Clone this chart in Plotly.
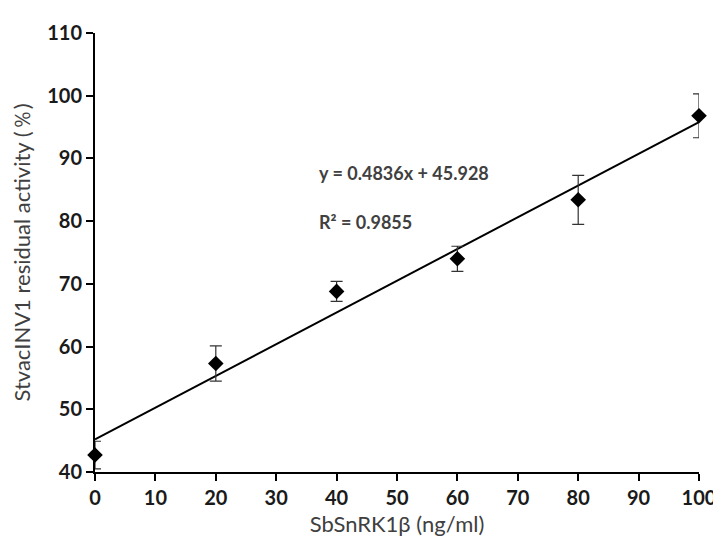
import numpy as np
import plotly.graph_objects as go

conc = [0, 20, 40, 60, 80, 100]
activity = [42.7, 57.3, 68.8, 74.0, 83.4, 96.8]
err = [2.2, 2.8, 1.6, 2.0, 3.9, 3.5]
x_ticks = [0, 10, 20, 30, 40, 50, 60, 70, 80, 90, 100]
y_ticks = [40, 50, 60, 70, 80, 90, 100, 110]
eq_text = "y = 0.4836x + 45.928"
r2_text = "R² = 0.9855"

slope, intercept = np.polyfit(conc, activity, 1)
fit_x = [0, 100]
fit_y = [intercept + slope * v for v in fit_x]

fig = go.Figure()
fig.add_trace(go.Scatter(x=fit_x, y=fit_y, mode="lines",
                         line=dict(color="black", width=2), cliponaxis=False,
                         showlegend=False, hoverinfo="skip"))
fig.add_trace(go.Scatter(x=conc, y=activity, mode="markers",
                         marker=dict(symbol="diamond", size=12, color="black"),
                         error_y=dict(type="data", array=err, visible=True,
                                      color="#333333", thickness=1.2, width=6),
                         cliponaxis=False, showlegend=False))

fam = "Lato, 'Open Sans', sans-serif"
tickfont = dict(family=fam, size=20, color="#1a1a1a", weight="bold")
titlefont = dict(family=fam, size=22, color="#404040")

fig.update_layout(
    width=721, height=537,
    margin=dict(l=87, r=19, t=12, b=69),
    paper_bgcolor="white", plot_bgcolor="white",
    xaxis=dict(range=[0, 100], tickvals=x_ticks, showgrid=False, zeroline=False,
               showline=True, linecolor="black", linewidth=2,
               ticks="outside", ticklen=7, tickwidth=2, tickcolor="black",
               tickfont=tickfont, ticklabeloverflow="allow",
               title=dict(text="SbSnRK1β (ng/ml)", font=titlefont, standoff=9)),
    yaxis=dict(range=[40, 110], tickvals=y_ticks, showgrid=False, zeroline=False,
               showline=True, linecolor="black", linewidth=2,
               ticks="outside", ticklen=7, tickwidth=2, tickcolor="black",
               tickfont=tickfont, ticklabeloverflow="allow",
               title=dict(text="StvacINV1 residual activity (％)", font=titlefont, standoff=12)),
    annotations=[
        dict(x=36.8, y=87.6, text=eq_text, showarrow=False, xanchor="left",
             font=dict(family=fam, size=18, color="#404040", weight="bold")),
        dict(x=36.8, y=79.8, text=r2_text, showarrow=False, xanchor="left",
             font=dict(family=fam, size=18, color="#404040", weight="bold")),
    ],
)

fig.write_html("out.html")
